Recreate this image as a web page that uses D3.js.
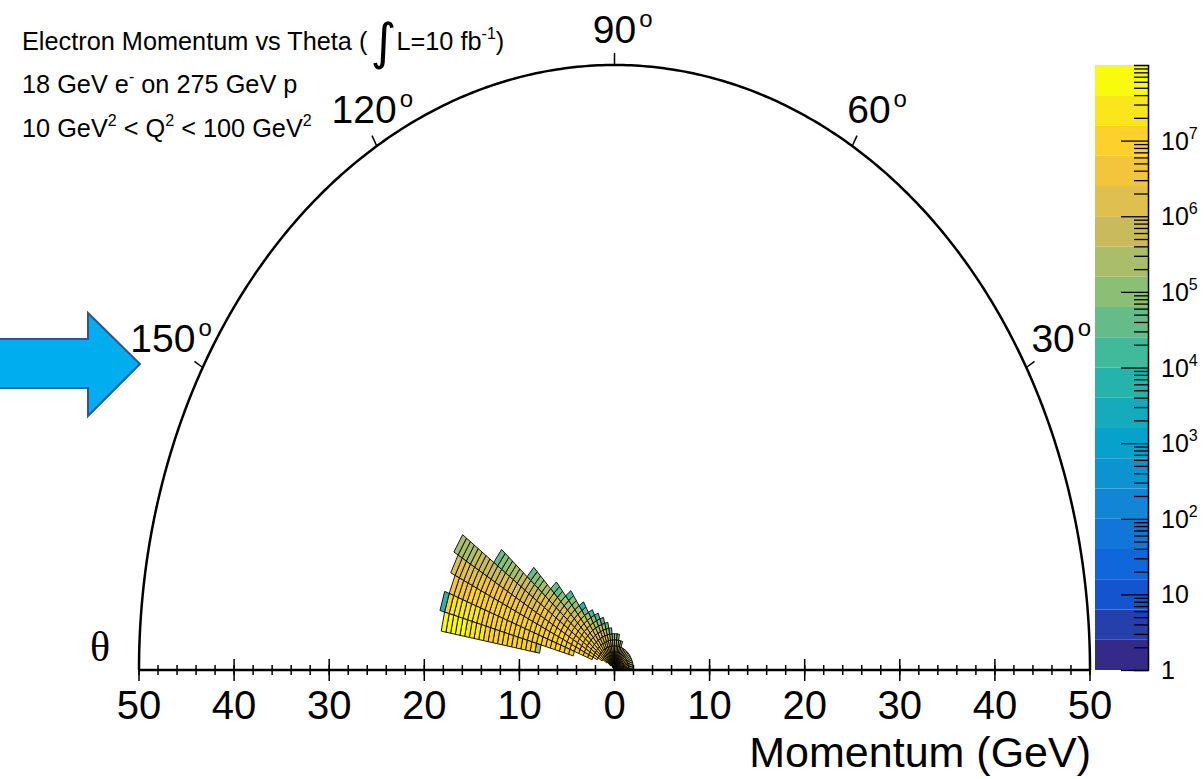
<!DOCTYPE html>
<html>
<head>
<meta charset="utf-8">
<script src="https://cdn.jsdelivr.net/npm/d3@7/dist/d3.min.js"></script>
<style>
  body { margin: 0; background: #fff; }
  svg { display: block; font-family: "Liberation Sans", Arial, sans-serif; }
</style>
</head>
<body>
<svg id="chart" width="1204" height="779"></svg>
<script>
// binning: theta rows 5 deg wide, momentum cells 0.5 GeV wide
const thetaBinWidth = 5;
const momentumBinWidth = 0.5;

// low edge of each theta row (deg)
const thetaLow = [0, 5, 10, 15, 20, 25, 30, 35, 40, 45, 50, 55, 60, 65, 70, 75, 80, 85,
  90, 95, 100, 105, 110, 115, 120, 125, 130, 135, 140, 145, 150, 155, 160, 165];

// first momentum edge of each row (GeV)
const rStart = [0, 0, 0, 0, 0, 0, 0, 0, 0, 0, 0, 0, 0, 0, 0, 0, 0, 0,
  0, 0, 0, 0, 0, 0, 0, 0, 0.5, 0.5, 1.0, 1.5, 2.0, 2.5, 4.5, 8.0];

// log10(counts) per cell, inner -> outer
const logCounts = [
  [5.8, 6.2, 6.0, 5.3], [5.8, 6.2, 6.0, 5.3], [5.8, 6.2, 6.0, 5.3], [5.8, 6.2, 6.0, 5.4], [5.8, 6.2, 6.0, 5.4],
  [5.8, 6.2, 6.0, 5.4], [5.8, 6.2, 6.0, 5.5], [5.8, 6.2, 6.0, 5.5], [5.8, 6.2, 6.0, 5.5],
  [5.8, 6.2, 6.1, 5.6], [5.8, 6.2, 6.1, 5.6], [5.8, 6.2, 6.1, 5.6], [5.8, 6.2, 6.1, 5.6], [5.8, 6.2, 6.1, 5.6],
  [5.9, 6.2, 6.2, 5.9, 5.2], [5.9, 6.2, 6.2, 5.9, 5.2],
  [5.9, 6.2, 6.3, 6.1, 5.7, 4.9], [5.9, 6.2, 6.3, 6.1, 5.7, 4.9],
  [6.0, 6.3, 6.3, 6.1, 5.7, 4.8],
  [6.0, 6.3, 6.3, 6.2, 5.9, 5.4, 4.5],
  [6.0, 6.3, 6.4, 6.3, 6.1, 5.8, 5.3, 4.4],
  [6.0, 6.3, 6.4, 6.3, 6.2, 6.0, 5.7, 5.2, 4.3],
  [6.0, 6.3, 6.4, 6.4, 6.3, 6.1, 5.9, 5.6, 5.1, 4.2],
  [6.0, 6.4, 6.4, 6.4, 6.3, 6.2, 6.0, 5.8, 5.5, 5.0, 4.1],
  [6.1, 6.4, 6.5, 6.5, 6.4, 6.3, 6.2, 6.0, 5.8, 5.5, 5.2, 4.7, 3.9],
  [6.1, 6.4, 6.5, 6.5, 6.5, 6.4, 6.3, 6.2, 6.1, 6.0, 5.8, 5.6, 5.4, 5.1, 4.8, 4.3],
  [6.4, 6.5, 6.6, 6.5, 6.5, 6.4, 6.3, 6.3, 6.2, 6.1, 6.0, 5.9, 5.7, 5.5, 5.3, 5.0, 4.7, 4.4],
  [6.4, 6.6, 6.6, 6.6, 6.5, 6.5, 6.4, 6.4, 6.3, 6.3, 6.2, 6.1, 6.1, 6.0, 5.9, 5.8, 5.7, 5.6,
    5.4, 5.2, 5.0, 4.8, 4.5],
  [6.6, 6.7, 6.7, 6.6, 6.6, 6.5, 6.5, 6.4, 6.4, 6.4, 6.3, 6.3, 6.2, 6.2, 6.1, 6.1, 6.0, 6.0,
    5.9, 5.9, 5.8, 5.7, 5.6, 5.5, 5.4, 5.3, 5.1, 5.0, 4.7],
  [6.7, 6.8, 6.8, 6.8, 6.7, 6.7, 6.7, 6.6, 6.6, 6.6, 6.5, 6.5, 6.5, 6.4, 6.4, 6.4, 6.3, 6.3,
    6.3, 6.2, 6.2, 6.1, 6.1, 6.0, 6.0, 5.9, 5.9, 5.9, 5.8, 5.8, 5.7, 5.6, 5.5, 5.5, 5.4, 5.3],
  [6.9, 6.9, 6.9, 6.9, 6.9, 6.9, 6.8, 6.8, 6.8, 6.8, 6.8, 6.7, 6.7, 6.7, 6.7, 6.7, 6.6, 6.6,
    6.6, 6.6, 6.5, 6.5, 6.5, 6.5, 6.5, 6.4, 6.4, 6.4, 6.3, 6.3, 6.2, 6.2, 6.1, 6.0],
  [6.9, 7.0, 7.0, 7.0, 7.0, 7.0, 7.0, 7.0, 7.0, 7.0, 6.9, 6.9, 6.9, 6.9, 6.9, 6.9, 6.9, 6.9,
    6.9, 6.9, 6.9, 6.9, 6.8, 6.8, 6.8, 6.8, 6.8, 6.8, 6.7, 6.7, 6.6, 6.5],
  [6.9, 7.0, 7.0, 7.1, 7.1, 7.1, 7.1, 7.1, 7.1, 7.1, 7.1, 7.1, 7.1, 7.1, 7.1, 7.1, 7.1, 7.1,
    7.1, 7.1, 7.1, 7.2, 7.2, 7.2, 7.2, 7.2, 7.2, 7.1, 3.7],
  [5.4, 6.9, 7.0, 7.0, 7.0, 7.1, 7.1, 7.1, 7.1, 7.1, 7.1, 7.1, 7.2, 7.3, 7.4, 7.5, 7.7, 7.7,
    7.7, 7.7, 7.7]
];

const axisTicks = [-50, -40, -30, -20, -10, 0, 10, 20, 30, 40, 50];
const angleLabels = [30, 60, 90, 120, 150];
const zExponents = [0, 1, 2, 3, 4, 5, 6, 7];

// ROOT kBird palette stops
const birdStops = ["#352a87", "#0f5cdd", "#1481d6", "#06a4ca", "#2eb7a4",
  "#87bf77", "#d1bb59", "#fec832", "#f9fb0e"];
const nContours = 20;

const svg = d3.select("#chart");

const x = d3.scaleLinear().domain([-50, 50]).range([139, 1090]);
const y = d3.scaleLinear().domain([0, 50]).range([670, 65]);
const pt = (r, deg) => {
  const a = deg * Math.PI / 180;
  return [x(r * Math.cos(a)), y(r * Math.sin(a))];
};

const bird = d3.piecewise(d3.interpolateRgb, birdStops);
const bandColors = d3.range(nContours).map(k => bird(k / (nContours - 1)));
const color = d3.scaleQuantize().domain([0, 8]).range(bandColors);

// arrow on the left
svg.append("polygon")
  .attr("points", [[-5, 339], [88, 339], [88, 313], [140, 364], [88, 416], [88, 388], [-5, 388]].join(" "))
  .attr("fill", "#00aeef")
  .attr("stroke", "#2f5597")
  .attr("stroke-width", 2);

// histogram cells
const cells = [];
thetaLow.forEach((t, i) => {
  logCounts[i].forEach((v, j) => {
    const r1 = rStart[i] + j * momentumBinWidth;
    cells.push({ t1: t, t2: t + thetaBinWidth, r1: r1, r2: r1 + momentumBinWidth, v: v });
  });
});
svg.append("g").selectAll("polygon").data(cells).join("polygon")
  .attr("points", d => [pt(d.r1, d.t1), pt(d.r2, d.t1), pt(d.r2, d.t2), pt(d.r1, d.t2)].join(" "))
  .attr("fill", d => color(d.v))
  .attr("stroke", "#000")
  .attr("stroke-width", 0.9);

// half-ellipse frame
const arc = d3.line().x(d => pt(50, d)[0]).y(d => pt(50, d)[1]);
svg.append("path")
  .datum(d3.range(0, 180.5, 0.5))
  .attr("d", arc)
  .attr("fill", "none")
  .attr("stroke", "#000")
  .attr("stroke-width", 2.5);

// angle ticks and labels (label nudges in px)
const labelNudge = { 30: [-2, -8], 60: [0, 0], 90: [0, 6], 120: [4, 0], 150: [-11, -8] };
angleLabels.forEach(a => {
  const p0 = pt(50, a), p1 = pt(51, a);
  svg.append("line").attr("x1", p0[0]).attr("y1", p0[1]).attr("x2", p1[0]).attr("y2", p1[1])
    .attr("stroke", "#000").attr("stroke-width", 1.5);
  const c = pt(53.5, a);
  const cx = c[0] + labelNudge[a][0], cy = c[1] + labelNudge[a][1];
  const lab = svg.append("text").attr("x", cx).attr("y", cy + 14)
    .attr("text-anchor", "middle").attr("font-size", 39).text(a);
  const w = lab.node().getComputedTextLength();
  svg.append("text").attr("x", cx + w / 2 + 3).attr("y", cy - 2)
    .attr("font-size", 24).text("o");
});

// momentum axis
svg.append("line").attr("x1", x(-50)).attr("x2", x(50)).attr("y1", y(0)).attr("y2", y(0))
  .attr("stroke", "#000").attr("stroke-width", 2.5);
const minor = d3.range(-50, 50.1, 2);
svg.append("g").selectAll("line").data(minor).join("line")
  .attr("x1", d => x(d)).attr("x2", d => x(d))
  .attr("y1", y(0) - 5).attr("y2", y(0) + 5)
  .attr("stroke", "#000").attr("stroke-width", 1.5);
svg.append("g").selectAll("line").data(axisTicks).join("line")
  .attr("x1", d => x(d)).attr("x2", d => x(d))
  .attr("y1", y(0) - 11).attr("y2", y(0) + 11)
  .attr("stroke", "#000").attr("stroke-width", 1.5);
svg.append("g").selectAll("text").data(axisTicks).join("text")
  .attr("x", d => x(d)).attr("y", 719)
  .attr("text-anchor", "middle").attr("font-size", 40)
  .text(d => Math.abs(d));

svg.append("text").attr("x", 1091).attr("y", 767).attr("text-anchor", "end")
  .attr("font-size", 43).text("Momentum (GeV)");
svg.append("text").attr("x", 90).attr("y", 661)
  .attr("font-family", "'Liberation Serif', 'DejaVu Serif', serif")
  .attr("font-size", 42).text("θ");

// colour bar
const z = d3.scaleLog().domain([1, 1e8]).range([670, 65]);
svg.append("g").selectAll("rect").data(bandColors).join("rect")
  .attr("x", 1095).attr("width", 53)
  .attr("y", (d, k) => z(Math.pow(10, (k + 1) * 8 / nContours)))
  .attr("height", (d, k) => z(Math.pow(10, k * 8 / nContours)) - z(Math.pow(10, (k + 1) * 8 / nContours)))
  .attr("fill", d => d);
const zTicks = z.ticks().filter(d => d < 1e8);
const zAxis = svg.append("g").attr("transform", "translate(1148,0)")
  .call(d3.axisLeft(z).tickValues(zTicks).tickFormat("").tickSizeOuter(0)
    .tickSize(14));
zAxis.selectAll(".tick line")
  .attr("x2", d => zExponents.some(e => Math.abs(Math.log10(d) - e) < 1e-6) ? -27 : -14)
  .attr("stroke-width", 1.3);
zAxis.select(".domain").attr("stroke-width", 1.5);

zExponents.forEach(e => {
  const t = svg.append("text").attr("x", 1161).attr("y", z(Math.pow(10, e)) + 9).attr("font-size", 25);
  if (e === 0) t.text("1");
  else if (e === 1) t.text("10");
  else {
    t.append("tspan").text("10");
    t.append("tspan").attr("font-size", 16).attr("dy", -11).text(e);
  }
});

// header text
const t1 = svg.append("text").attr("x", 22).attr("y", 50).attr("font-size", 25.3);
t1.append("tspan").text("Electron Momentum vs Theta (");
t1.append("tspan").attr("font-family", "'DejaVu Sans', sans-serif").attr("font-size", 50)
  .attr("dx", 3).attr("dy", 9).text("∫");
t1.append("tspan").attr("dy", -9).text("L=10 fb");
t1.append("tspan").attr("font-size", 16).attr("dy", -11).text("-1");
t1.append("tspan").attr("dy", 11).text(")");

const t2 = svg.append("text").attr("x", 22).attr("y", 93).attr("font-size", 25.3);
t2.append("tspan").text("18 GeV e");
t2.append("tspan").attr("font-size", 16).attr("dy", -11).text("-");
t2.append("tspan").attr("dy", 11).text(" on 275 GeV p");

const t3 = svg.append("text").attr("x", 22).attr("y", 137).attr("font-size", 25.3);
t3.append("tspan").text("10 GeV");
t3.append("tspan").attr("font-size", 16).attr("dy", -11).text("2");
t3.append("tspan").attr("dy", 11).text(" < Q");
t3.append("tspan").attr("font-size", 16).attr("dy", -11).text("2");
t3.append("tspan").attr("dy", 11).text(" < 100 GeV");
t3.append("tspan").attr("font-size", 16).attr("dy", -11).text("2");
</script>
</body>
</html>
